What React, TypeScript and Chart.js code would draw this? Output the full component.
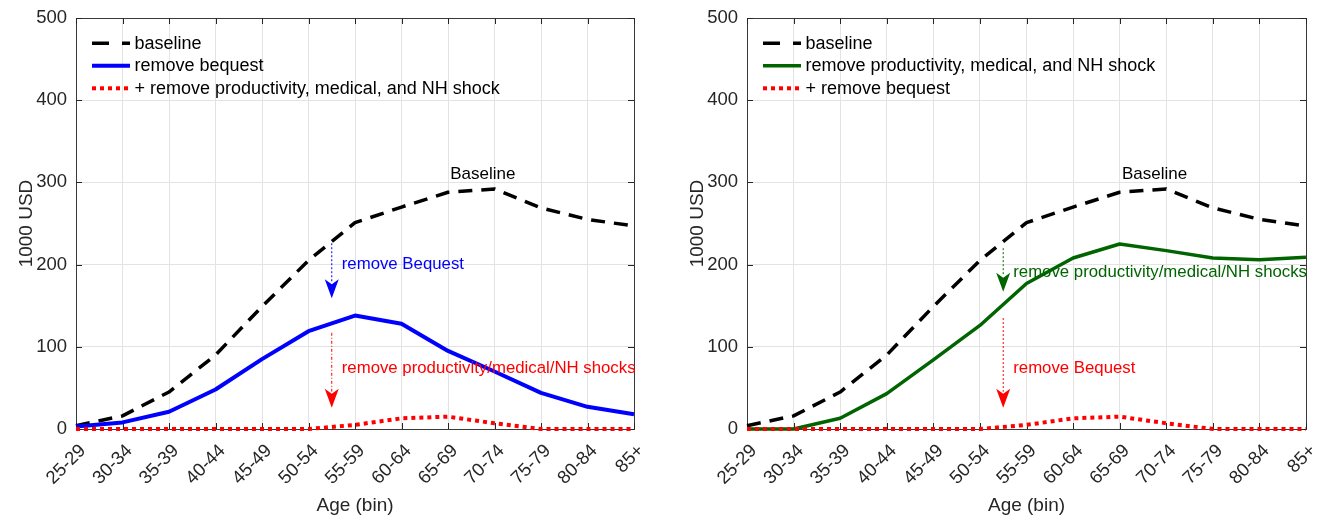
import React, { useEffect, useRef } from "react";
import { Chart, registerables } from "chart.js";

Chart.register(...registerables);

// ---------- data ----------
const AGE_BINS = ["25-29", "30-34", "35-39", "40-44", "45-49", "50-54", "55-59", "60-64", "65-69", "70-74", "75-79", "80-84", "85+"];
const Y_TICKS = [0, 100, 200, 300, 400, 500];

const BASELINE = [4, 16, 45, 90, 149, 205, 251, 270, 288, 292, 269, 255, 247];
// left panel
const REMOVE_BEQUEST = [3, 8, 21, 48, 85, 119, 138, 128, 95, 70, 44, 27, 18];
const LEFT_REMOVE_BOTH = [0, 0, 0, 0, 0, 0, 5, 13, 15, 7, 0, 0, 0];
// right panel
const REMOVE_SHOCKS = [0, 0, 13, 43, 84, 126, 177, 208, 225, 217, 208, 206, 209];
const RIGHT_REMOVE_BOTH = [0, 0, 0, 0, 0, 0, 5, 13, 15, 7, 0, 0, 0];

const LEFT_LEGEND = ["baseline", "remove bequest", "+ remove productivity, medical, and NH shock"];
const RIGHT_LEGEND = ["baseline", "remove productivity, medical, and NH shock", "+ remove bequest"];

const FONT = "'Liberation Sans', Arial, Helvetica, sans-serif";
const TXT = "#262626";
const BLUE = "#0000ff";
const RED = "#ff0000";
const GREEN = "#006400";
const GRID = "#e3e3e3";

type Style = { color: string; width: number; dash: number[]; legendDash: number[] };
const S_BASE: Style = { color: "#000000", width: 3.5, dash: [14, 9], legendDash: [17, 13] };
const S_BLUE: Style = { color: BLUE, width: 4, dash: [], legendDash: [] };
const S_GREEN: Style = { color: GREEN, width: 3.5, dash: [], legendDash: [] };
const S_RED: Style = { color: RED, width: 4, dash: [4, 4], legendDash: [4, 4] };

type Arrow = { x: number; from: number; to: number; color: string; dash: number[]; text: string; textAt: number };
type PanelCfg = {
  padding: { top: number; right: number; left: number; bottom: number };
  series: { data: number[]; style: Style }[]; // in legend order
  legend: string[];
  arrows: Arrow[];
};

function drawArrow(ctx: CanvasRenderingContext2D, px: number, y1: number, y2: number, color: string, dash: number[]) {
  const headLen = 19;
  const headW = 7;
  ctx.save();
  ctx.strokeStyle = color;
  ctx.lineWidth = 1;
  ctx.setLineDash(dash);
  ctx.beginPath();
  ctx.moveTo(px, y1);
  ctx.lineTo(px, y2 - headLen + 3);
  ctx.stroke();
  ctx.setLineDash([]);
  ctx.fillStyle = color;
  ctx.beginPath();
  ctx.moveTo(px - headW, y2 - headLen);
  ctx.lineTo(px, y2 - headLen + 5);
  ctx.lineTo(px + headW, y2 - headLen);
  ctx.lineTo(px, y2);
  ctx.closePath();
  ctx.fill();
  ctx.restore();
}

function makePlugin(cfg: PanelCfg) {
  return {
    id: "matlabStyle",
    beforeDatasetsDraw(chart: any) {
      const { ctx, chartArea: a, scales } = chart;
      const x = scales.x;
      const y = scales.y;
      ctx.save();
      ctx.strokeStyle = "#3a3a3a";
      ctx.lineWidth = 1;
      ctx.setLineDash([]);
      ctx.strokeRect(Math.round(a.left) + 0.5, Math.round(a.top) + 0.5, Math.round(a.right - a.left), Math.round(a.bottom - a.top));
      ctx.strokeStyle = "#262626";
      const tl = 6;
      ctx.beginPath();
      AGE_BINS.forEach((_, i) => {
        const px = Math.round(x.getPixelForValue(i)) + 0.5;
        ctx.moveTo(px, a.bottom);
        ctx.lineTo(px, a.bottom - tl);
        ctx.moveTo(px, a.top);
        ctx.lineTo(px, a.top + tl);
      });
      Y_TICKS.forEach((v) => {
        const py = Math.round(y.getPixelForValue(v)) + 0.5;
        ctx.moveTo(a.left, py);
        ctx.lineTo(a.left + tl, py);
        ctx.moveTo(a.right, py);
        ctx.lineTo(a.right - tl, py);
      });
      ctx.stroke();
      ctx.restore();
    },
    afterDatasetsDraw(chart: any) {
      const { ctx, chartArea: a, scales } = chart;
      const x = scales.x;
      const y = scales.y;
      ctx.save();
      // legend
      const rows = [25.3, 47.7, 70.3];
      cfg.series.forEach((s, i) => {
        const yy = a.top + rows[i];
        ctx.strokeStyle = s.style.color;
        ctx.lineWidth = s.style.width;
        ctx.lineCap = "butt";
        ctx.setLineDash(s.style.legendDash);
        ctx.beginPath();
        ctx.moveTo(a.left + 16, yy);
        ctx.lineTo(a.left + 54, yy);
        ctx.stroke();
        ctx.setLineDash([]);
        ctx.fillStyle = "#000";
        ctx.font = `18px ${FONT}`;
        ctx.textAlign = "left";
        ctx.textBaseline = "middle";
        ctx.fillText(cfg.legend[i], a.left + 58.5, yy + 0.5);
      });
      // "Baseline" label
      ctx.font = `17px ${FONT}`;
      ctx.fillStyle = "#000";
      ctx.textAlign = "center";
      ctx.textBaseline = "middle";
      ctx.fillText("Baseline", x.getPixelForValue(8.75), y.getPixelForValue(310));
      // arrows
      cfg.arrows.forEach((ar) => {
        const px = x.getPixelForValue(ar.x);
        drawArrow(ctx, px, y.getPixelForValue(ar.from), y.getPixelForValue(ar.to), ar.color, ar.dash);
        ctx.fillStyle = ar.color;
        ctx.font = `16.8px ${FONT}`;
        ctx.textAlign = "left";
        ctx.textBaseline = "middle";
        ctx.fillText(ar.text, px + 10, y.getPixelForValue(ar.textAt));
      });
      ctx.restore();
    },
  };
}

function zeroPad(s: any) {
  s.paddingTop = 0;
  s.paddingBottom = 0;
  s.paddingLeft = 0;
  s.paddingRight = 0;
}

function buildConfig(cfg: PanelCfg): any {
  // reverse so that the last listed series is drawn on top
  const datasets = cfg.series
    .map((s, i) => ({
      label: cfg.legend[i],
      data: s.data,
      borderColor: s.style.color,
      backgroundColor: s.style.color,
      borderWidth: s.style.width,
      borderDash: s.style.dash,
      borderCapStyle: "butt",
      borderJoinStyle: "round",
      pointRadius: 0,
      pointHoverRadius: 0,
      fill: false,
      tension: 0,
      clip: false,
    }))
    .reverse();
  return {
    type: "line",
    data: { labels: AGE_BINS, datasets },
    options: {
      responsive: false,
      animation: false,
      events: [],
      layout: { padding: cfg.padding, autoPadding: false },
      plugins: { legend: { display: false }, tooltip: { enabled: false }, title: { display: false } },
      scales: {
        x: {
          type: "category",
          offset: false,
          grid: { color: GRID, lineWidth: 1, drawTicks: false },
          border: { display: false },
          ticks: {
            autoSkip: false,
            maxRotation: 45,
            minRotation: 45,
            padding: 11,
            labelOffset: 7,
            color: TXT,
            font: { family: FONT, size: 18.5 },
          },
          title: { display: true, text: "Age (bin)", color: TXT, font: { family: FONT, size: 19 }, padding: { top: 0, bottom: 0 } },
          afterFit: (s: any) => {
            s.height = 88;
            zeroPad(s);
          },
        },
        y: {
          min: 0,
          max: 500,
          grid: { color: GRID, lineWidth: 1, drawTicks: false },
          border: { display: false },
          ticks: {
            stepSize: 100,
            padding: 9,
            color: TXT,
            font: { family: FONT, size: 18.5 },
          },
          title: { display: true, text: "1000 USD", color: TXT, font: { family: FONT, size: 19 }, padding: { top: 15, bottom: 0 } },
          afterFit: (s: any) => {
            s.width = 76;
            zeroPad(s);
          },
        },
      },
    },
    plugins: [makePlugin(cfg)],
  };
}

const LEFT_CFG: PanelCfg = {
  padding: { top: 18, right: 26, left: 0, bottom: 0 },
  series: [
    { data: BASELINE, style: S_BASE },
    { data: REMOVE_BEQUEST, style: S_BLUE },
    { data: LEFT_REMOVE_BOTH, style: S_RED },
  ],
  legend: LEFT_LEGEND,
  arrows: [
    { x: 5.5, from: 226, to: 159, color: BLUE, dash: [2, 2], text: "remove Bequest", textAt: 200 },
    { x: 5.5, from: 117, to: 26, color: RED, dash: [3, 2, 1, 2], text: "remove productivity/medical/NH shocks", textAt: 74 },
  ],
};

const RIGHT_CFG: PanelCfg = {
  padding: { top: 18, right: 13, left: 11, bottom: 0 },
  series: [
    { data: BASELINE, style: S_BASE },
    { data: REMOVE_SHOCKS, style: S_GREEN },
    { data: RIGHT_REMOVE_BOTH, style: S_RED },
  ],
  legend: RIGHT_LEGEND,
  arrows: [
    { x: 5.5, from: 220, to: 167, color: GREEN, dash: [2, 2], text: "remove productivity/medical/NH shocks", textAt: 190 },
    { x: 5.5, from: 135, to: 26, color: RED, dash: [2, 2], text: "remove Bequest", textAt: 74 },
  ],
};

function Panel({ cfg, width }: { cfg: PanelCfg; width: number }) {
  const ref = useRef<HTMLCanvasElement | null>(null);
  useEffect(() => {
    if (!ref.current) return;
    const chart = new Chart(ref.current, buildConfig(cfg));
    return () => chart.destroy();
  }, [cfg]);
  return <canvas ref={ref} width={width} height={517} style={{ display: "block", width, height: 517 }} />;
}

export default function App() {
  return (
    <div style={{ position: "absolute", left: 0, top: 0, width: 1319, height: 517, display: "flex", background: "#fff" }}>
      <Panel cfg={LEFT_CFG} width={660} />
      <Panel cfg={RIGHT_CFG} width={659} />
    </div>
  );
}
